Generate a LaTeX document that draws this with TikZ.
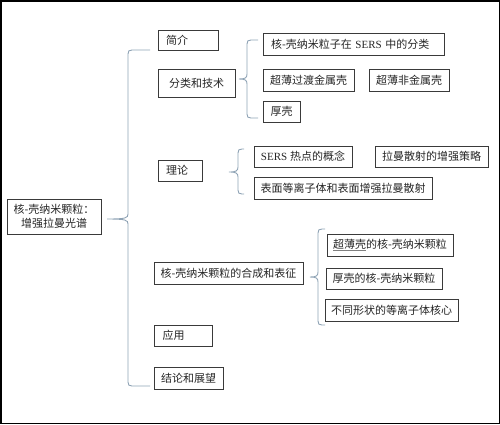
\documentclass[tikz,border=0pt]{standalone}
\usepackage{fontspec}
\setmainfont{Noto Sans CJK SC}
\newfontfamily\tnr{Liberation Serif}
\definecolor{bracecol}{HTML}{8FA3B5}
\definecolor{boxcol}{HTML}{3A3A3A}
\newcommand\mybrace[6]{% xv, ytop, ybot, ytip, xtip, xarm
  \draw[bracestyle] (#6,#2) -- (#1+4,#2) .. controls (#1+1,#2) and (#1,#2+1) .. (#1,#2+4)
    -- (#1,#4-5) .. controls (#1,#4-1) and (#1-2,#4) .. (#5,#4)
    .. controls (#1-2,#4) and (#1,#4+1) .. (#1,#4+5)
    -- (#1,#3-4) .. controls (#1,#3-1) and (#1+1,#3) .. (#1+4,#3) -- (#6,#3);}
\begin{document}
\begin{tikzpicture}[x=1pt,y=-1pt,
  box/.style={draw=boxcol,line width=0.9pt,inner sep=0pt,fill=white,
    font=\fontsize{11}{14}\selectfont,text=black!85,align=center},
  lbox/.style={box,align=left},
  bracestyle/.style={draw=bracecol,line width=0.9pt}]
\useasboundingbox (0,0) rectangle (500,424);
\draw[line width=1.5pt] (0.75,0.75) rectangle (499.25,423.25);

% level 1
\node[box,minimum width=94,minimum height=35] (root) at (54,216.5) {核-壳纳米颗粒：\\增强拉曼光谱};

% level 2
\node[lbox,minimum width=60,minimum height=20,text width=44] (jianjie) at (188,40) {简介};
\node[box,minimum width=77,minimum height=28] (fenlei) at (196.5,83) {分类和技术};
\node[lbox,minimum width=44,minimum height=21,text width=28] (lilun) at (180,170.5) {理论};
\node[box,minimum width=149,minimum height=22] (hecheng) at (228.5,273) {核-壳纳米颗粒的合成和表征};
\node[lbox,minimum width=58,minimum height=21,text width=41] (yingyong) at (183,335.5) {应用};
\node[box,minimum width=69,minimum height=22] (jielun) at (188.5,378) {结论和展望};

% level 3: classification
\node[lbox,minimum width=181,minimum height=22,text width=165] (c1) at (353.5,44) {核-壳纳米粒子在{\tnr\ SERS }中的分类};
\node[box,minimum width=91,minimum height=22] (c2) at (308.5,80) {超薄过渡金属壳};
\node[box,minimum width=80,minimum height=22] (c3) at (409,80) {超薄非金属壳};
\node[box,minimum width=37,minimum height=21] (c4) at (281.5,111.5) {厚壳};

% level 3: theory
\node[box,minimum width=98,minimum height=21] (t1) at (303,156.5) {{\tnr SERS }热点的概念};
\node[box,minimum width=113,minimum height=21] (t2) at (431.5,156.5) {拉曼散射的增强策略};
\node[box,minimum width=178,minimum height=22] (t3) at (343,188) {表面等离子体和表面增强拉曼散射};

% level 3: synthesis
\node[box,minimum width=126,minimum height=22] (s1) at (390,245) {{\color{gray}\underline{\color{black!85}超薄壳}}的核-壳纳米颗粒};
\node[box,minimum width=116,minimum height=21] (s2) at (384,278.5) {厚壳的核-壳纳米颗粒};
\node[box,minimum width=133,minimum height=22] (s3) at (391.5,310) {不同形状的等离子体核心};

% braces
\mybrace{128}{50}{386}{219}{107}{150}
\mybrace{247}{40}{118}{79}{239}{258}
\mybrace{238}{149}{194}{172}{229}{244}
\mybrace{318}{229}{325}{277}{310}{325}
\end{tikzpicture}
\end{document}
